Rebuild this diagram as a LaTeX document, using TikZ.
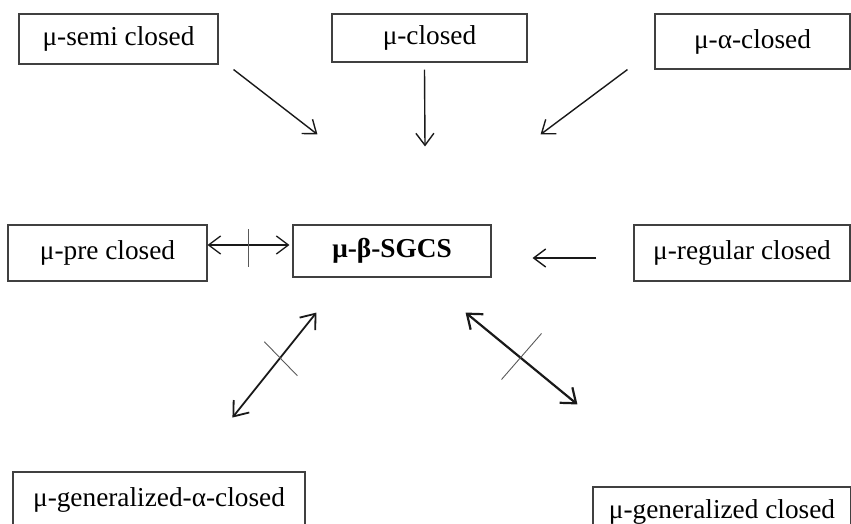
\documentclass[tikz,border=0pt]{standalone}
\usepackage{fontspec}
\setmainfont{Liberation Serif}
\usetikzlibrary{arrows.meta,calc}

\begin{document}
\begin{tikzpicture}[
  x=1pt, y=-1pt,
  font=\fontsize{27.3}{31}\selectfont,
  >={Straight Barb[length=12pt,width=18pt]},
  setbox/.style={draw=black!75, line width=1.1pt, inner sep=0pt},
  arrow/.style={->, line width=1.4pt, black!90},
  biarrow/.style={<->, line width=1.8pt, black!90,
    >={Straight Barb[length=13pt,width=20pt]}},
  tick/.style={line width=0.9pt, black!65}
]
\useasboundingbox (0,0) rectangle (851,524);

% ---------- top row ----------
\node[setbox, minimum width=199pt, minimum height=50pt] (semi)   at (118.5,39)  {μ-semi closed};
\node[setbox, minimum width=195pt, minimum height=48pt] (closed) at (429.5,38)  {μ-closed};
\node[setbox, minimum width=195pt, minimum height=55pt] (alpha)  at (752.5,41.5) {μ-α-closed};

% ---------- middle row ----------
\node[setbox, minimum width=199pt, minimum height=56pt] (pre)     at (107.5,253) {μ-pre closed};
\node[setbox, minimum width=198pt, minimum height=52pt] (sgcs)    at (392,251)   {\textbf{μ-β-SGCS}};
\node[setbox, minimum width=216pt, minimum height=56pt] (regular) at (742,253)   {μ-regular closed};

% ---------- bottom row (cut by the page edge) ----------
\node[setbox, minimum width=292pt, minimum height=56pt] (galpha) at (159,500)  {μ-generalized-α-closed};
\node[setbox, minimum width=258pt, minimum height=50pt] (gen)    at (722,512)  {μ-generalized closed};

% arrows into the centre box
\draw[arrow] ($(semi.south east)+(15,5)$)  -- ($(sgcs.north west)+(25,-90)$);
\draw[arrow] ($(closed.south)+(-5,7)$)     -- ($(sgcs.north)+(33,-78)$);
\draw[arrow] ($(alpha.south west)+(-27,0)$) -- ($(sgcs.north east)+(49,-90)$);
\draw[arrow] ($(regular.west)+(-37,5)$)    -- ($(sgcs.east)+(41,7)$);

% non-implications (crossed double arrows)
\draw[<->, line width=1.3pt, black!90] (pre.east |- 0,245) coordinate (pe) -- ($(sgcs.west |- 0,245)+(-3,0)$) coordinate (se);
\draw[tick] ($(pe)!0.5!(se)+(0,-16)$) -- ++(0,38);

\coordinate (la) at ($(sgcs.south west)+(-60,140)$);
\coordinate (lb) at ($(sgcs.south west)+(24,35)$);
\draw[biarrow] (la) -- (lb);
\draw[tick] ($(la)!0.57!(lb)+(-16,-16)$) -- ++(33,34);

\coordinate (ra) at ($(sgcs.south east)+(-26,35)$);
\coordinate (rb) at ($(gen.north west)+(-15,-82)$);
\draw[biarrow, line width=2.2pt] (ra) -- (rb);
\draw[tick] ($(ra)!0.5!(rb)+(20,-25)$) -- ++(-40,46);

\end{tikzpicture}
\end{document}
